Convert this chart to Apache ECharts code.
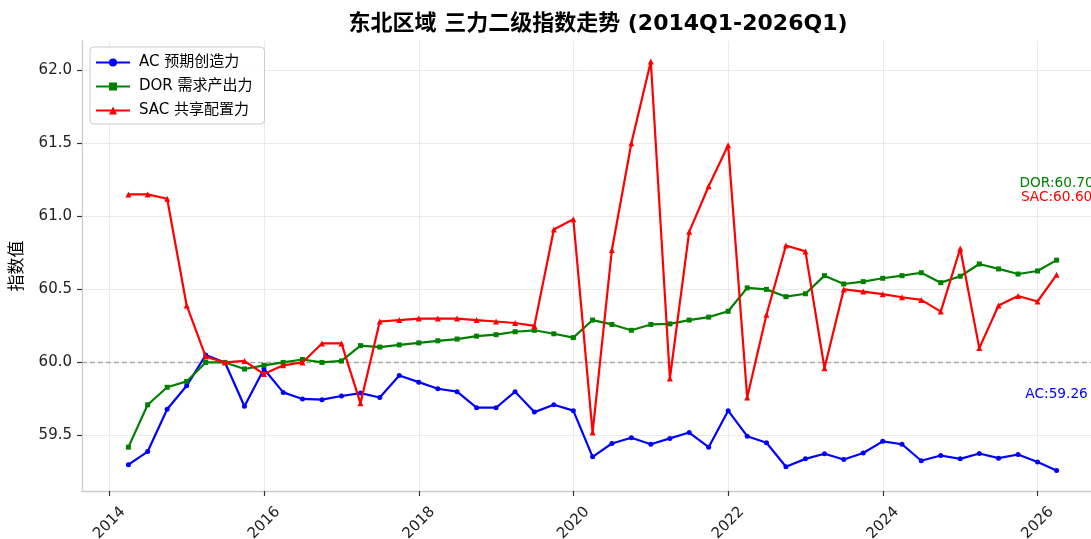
<!DOCTYPE html>
<html>
<head>
<meta charset="utf-8">
<script src="https://cdn.jsdelivr.net/npm/echarts@6/dist/echarts.min.js"></script>
<style>
html,body{margin:0;padding:0;background:#fff;}
#chart{width:1091px;height:539px;}
</style>
</head>
<body>
<div id="chart"></div>
<script>
const dates = ['2014-03-31','2014-06-30','2014-09-30','2014-12-31','2015-03-31','2015-06-30','2015-09-30','2015-12-31',
'2016-03-31','2016-06-30','2016-09-30','2016-12-31','2017-03-31','2017-06-30','2017-09-30','2017-12-31',
'2018-03-31','2018-06-30','2018-09-30','2018-12-31','2019-03-31','2019-06-30','2019-09-30','2019-12-31',
'2020-03-31','2020-06-30','2020-09-30','2020-12-31','2021-03-31','2021-06-30','2021-09-30','2021-12-31',
'2022-03-31','2022-06-30','2022-09-30','2022-12-31','2023-03-31','2023-06-30','2023-09-30','2023-12-31',
'2024-03-31','2024-06-30','2024-09-30','2024-12-31','2025-03-31','2025-06-30','2025-09-30','2025-12-31',
'2026-03-31'];

const acValues = [59.30,59.39,59.68,59.84,60.05,60.00,59.70,59.955,59.795,59.75,59.745,59.77,59.79,59.76,59.91,59.865,
59.82,59.80,59.69,59.69,59.80,59.66,59.71,59.67,59.354,59.445,59.484,59.44,59.48,59.52,59.42,59.67,
59.495,59.45,59.286,59.34,59.375,59.336,59.38,59.46,59.44,59.327,59.363,59.34,59.377,59.345,59.37,59.318,59.26];

const dorValues = [59.42,59.71,59.83,59.87,60.00,60.00,59.955,59.98,60.00,60.02,60.00,60.01,60.115,60.105,60.12,60.134,
60.148,60.16,60.18,60.19,60.21,60.22,60.196,60.17,60.29,60.26,60.22,60.26,60.264,60.29,60.31,60.35,
60.51,60.50,60.45,60.47,60.594,60.537,60.553,60.576,60.594,60.614,60.546,60.59,60.674,60.64,60.605,60.626,60.70];

const sacValues = [61.15,61.15,61.12,60.39,60.04,60.00,60.01,59.92,59.98,60.00,60.13,60.13,59.72,60.28,60.29,60.30,
60.30,60.30,60.29,60.28,60.27,60.25,60.91,60.98,59.52,60.77,61.50,62.06,59.89,60.894,61.206,61.486,
59.76,60.326,60.80,60.76,59.96,60.50,60.485,60.467,60.446,60.428,60.348,60.78,60.098,60.39,60.455,60.417,60.60];

const seriesNames = ['AC 预期创造力','DOR 需求产出力','SAC 共享配置力'];
const shortNames = ['AC','DOR','SAC'];
const yTicks = [59.5,60.0,60.5,61.0,61.5,62.0];
const xTickYears = [2014,2016,2018,2020,2022,2024,2026];
const refLine = 60;
const titleText = '东北区域 三力二级指数走势 (2014Q1-2026Q1)';
const yName = '指数值';

const FONT = '"DejaVu Sans", "Noto Sans CJK SC", sans-serif';
const colors = ['#0000ff','#008000','#ff0000'];
const symbols = ['circle','rect','triangle'];
const symSizes = [5,5,6];

const ts = dates.map(d => new Date(d + 'T00:00:00Z').getTime());
const span = ts[ts.length-1] - ts[0];
const xMin = ts[0] - 0.05*span;
const xMaxFull = ts[ts.length-1] + 0.05*span;
// the reference figure is cropped at its right edge (plot would end ~12px beyond the canvas)
const xMax = xMin + (xMaxFull - xMin) * (1009 / 1021);
const allVals = acValues.concat(dorValues, sacValues);
const vMin = Math.min(...allVals), vMax = Math.max(...allVals);
const yMin = vMin - 0.05*(vMax - vMin);
const yMax = vMax + 0.05*(vMax - vMin);
const xTickTs = xTickYears.map(y => Date.UTC(y,0,1));

function buildData(vals, idx){
  return vals.map((v,i) => {
    if (i === vals.length-1) {
      return {
        value: [ts[i], v],
        label: {
          show: true, position: 'top', distance: 67,
          formatter: shortNames[idx] + ':' + v.toFixed(2),
          color: colors[idx], fontSize: 13.7, fontFamily: FONT
        }
      };
    }
    return [ts[i], v];
  });
}

const valueLists = [acValues, dorValues, sacValues];
const series = valueLists.map((vals, k) => {
  const s = {
    name: seriesNames[k],
    type: 'line',
    data: buildData(vals, k),
    symbol: symbols[k],
    symbolSize: symSizes[k],
    showSymbol: true,
    lineStyle: {color: colors[k], width: 2.2},
    itemStyle: {color: colors[k]},
    labelLayout: {hideOverlap: false},
    z: 3 + k
  };
  if (k === 0) {
    s.markLine = {
      silent: true,
      symbol: ['none','none'],
      label: {show: false},
      lineStyle: {color: '#aaaaaa', type: [5,3], width: 1.3},
      data: [{yAxis: refLine}],
      z: 1
    };
  }
  return s;
});

const chart = echarts.init(document.getElementById('chart'), null, {renderer: 'canvas'});
chart.setOption({
  animation: false,
  backgroundColor: '#ffffff',
  title: {
    text: titleText,
    left: 593, top: 8, textAlign: 'center',
    textStyle: {fontSize: 22, fontWeight: 'bold', color: '#000', fontFamily: FONT}
  },
  legend: {
    orient: 'vertical',
    left: 90, top: 47,
    padding: [8, 12, 6, 5],
    itemWidth: 34, itemHeight: 10, itemGap: 9,
    borderColor: '#cccccc', borderWidth: 1, borderRadius: 4,
    backgroundColor: 'rgba(255,255,255,0.85)',
    textStyle: {fontSize: 15, color: '#000', fontFamily: FONT, padding: [0,0,0,4]},
    data: seriesNames
  },
  grid: {left: 82, right: 0, top: 41, bottom: 48, containLabel: false, outerBoundsMode: 'none'},
  xAxis: {
    type: 'value',
    min: xMin, max: xMax,
    axisLine: {show: true, lineStyle: {color: '#cccccc', width: 1.3}},
    axisTick: {show: true, inside: false, length: 5, customValues: xTickTs, lineStyle: {color: '#333', width: 1.2}},
    axisLabel: {
      customValues: xTickTs,
      rotate: 45, margin: 32, align: 'center', verticalAlign: 'middle',
      formatter: v => String(new Date(v).getUTCFullYear()),
      fontSize: 15, color: '#222', fontFamily: FONT
    },
    splitLine: {show: true, lineStyle: {color: '#ebebeb', width: 1}}
  },
  yAxis: {
    type: 'value',
    min: yMin, max: yMax,
    name: yName, nameLocation: 'middle', nameGap: 56, nameRotate: 90,
    nameTextStyle: {fontSize: 17, color: '#000', fontFamily: FONT},
    axisLine: {show: true, lineStyle: {color: '#cccccc', width: 1.3}},
    axisTick: {show: true, inside: false, length: 5, customValues: yTicks, lineStyle: {color: '#333', width: 1.2}},
    axisLabel: {
      customValues: yTicks, margin: 10,
      formatter: v => Number(v).toFixed(1),
      fontSize: 15, color: '#222', fontFamily: FONT
    },
    splitLine: {show: true, lineStyle: {color: '#ebebeb', width: 1}}
  },
  series: series
});
</script>
</body>
</html>
